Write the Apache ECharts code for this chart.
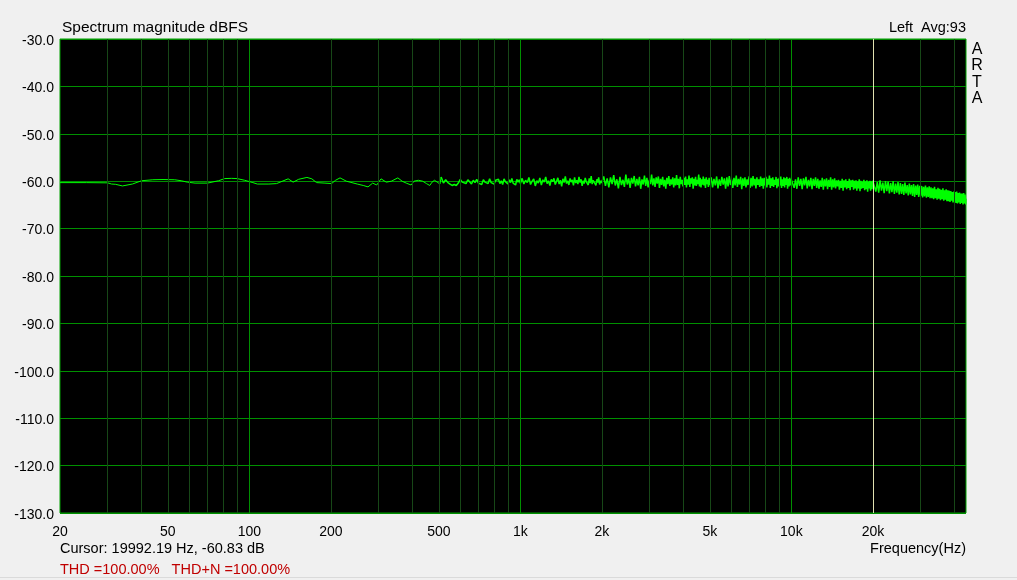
<!DOCTYPE html>
<html><head><meta charset="utf-8">
<script src="https://cdn.jsdelivr.net/npm/echarts@6/dist/echarts.min.js"></script>
<style>html,body{margin:0;padding:0;background:#f0f0f0}#c{width:1017px;height:580px}</style>
</head><body><div id="c"></div>
<script>
// ---- data ----
const freqLow = [20,25,30,31,32,34,37,40,44,48,53,56,59,63,70,77,81,86,90,96,103,107,118,126,139,145,152,163,170,177,190,201,208,216,228,250,263,274,285,295,306,320,334,353,366,379,395,405,420,436,450,463,472,482,496,505,510];
const dbLow = [-60.3,-60.3,-60.35,-60.6,-60.65,-61.0,-60.6,-59.9,-59.7,-59.65,-59.7,-59.9,-60.2,-60.4,-60.4,-59.9,-59.45,-59.4,-59.45,-59.8,-60.3,-60.6,-60.6,-60.5,-59.5,-60.2,-59.6,-59.2,-59.5,-60.3,-60.4,-60.5,-59.8,-59.3,-60.0,-60.6,-60.9,-61.2,-60.4,-60.8,-59.5,-60.2,-60.0,-59.3,-60.0,-60.4,-60.8,-60.0,-59.8,-60.0,-60.5,-60.9,-60.2,-59.8,-60.3,-60.6,-59.1];

const freqA = [520,530,540,550,560,570,580,590,600,610,620,630,640,650,660,670,680,690,700,710,720,730,740,750,760,770,780,790,800,810,820,830,840,850,860,870,880,890,900,910,920,930,940,950,960,970,980,990,1000];
const dbA = [-60.4,-59.7,-60.3,-60.6,-60.9,-60.7,-60.9,-60.4,-59.6,-60.2,-59.8,-60.5,-59.7,-60.1,-60.6,-59.8,-60.3,-59.6,-60.4,-60.0,-60.7,-59.7,-60.2,-59.9,-60.5,-59.5,-60.3,-60.0,-60.6,-59.8,-60.2,-59.6,-60.5,-59.9,-60.7,-59.5,-60.1,-59.8,-60.6,-59.7,-60.3,-59.4,-60.4,-60.0,-60.8,-59.6,-60.2,-59.7,-60.5];

const freqB = [1015,1030,1045,1060,1075,1090,1105,1120,1135,1150,1165,1180,1195,1210,1225,1240,1255,1270,1285,1300,1315,1330,1345,1360,1375,1390,1405,1420,1435,1450,1465,1480,1495,1510,1525,1540,1555,1570,1585,1600,1615,1630,1645,1660,1675,1690,1705,1720,1735,1750,1765,1780,1795,1810,1825,1840,1855,1870,1885,1900,1915,1930,1945,1960,1975,1990];
const dbB = [-59.4,-60.6,-59.8,-60.3,-59.2,-60.7,-60.0,-59.5,-61.0,-59.9,-60.4,-59.3,-60.8,-59.7,-60.2,-59.1,-60.5,-59.9,-60.9,-59.6,-60.1,-59.4,-60.7,-60.0,-59.3,-60.6,-59.8,-61.1,-59.5,-60.3,-59.0,-60.5,-59.9,-60.8,-59.4,-60.2,-59.7,-60.9,-59.2,-60.4,-59.8,-60.6,-59.1,-60.3,-59.6,-61.0,-59.9,-60.5,-59.3,-60.1,-59.7,-60.8,-59.4,-60.4,-58.9,-60.6,-59.8,-60.2,-59.5,-60.9,-59.6,-60.3,-59.2,-60.7,-59.9,-60.4];

const freqC = [2030,2060,2090,2120,2150,2180,2210,2240,2270,2300,2330,2360,2390,2420,2450,2480,2510,2540,2570,2600,2630,2660,2690,2720,2750,2780,2810,2840,2870,2900,2930,2960,2990,3020,3050,3080,3110,3140,3170,3200,3230,3260,3290,3320,3350,3380,3410,3440,3470,3500,3530,3560,3590,3620,3650,3680,3710,3740,3770,3800,3830,3860,3890,3920,3950,3980,4010,4040,4070,4100,4130,4160,4190,4220,4250,4280,4310,4340,4370,4400,4430,4460,4490,4520,4550,4580,4610,4640,4670,4700,4730,4760,4790,4820,4850,4880,4910,4940,4970,5000];
const dbC = [-59.0,-61.0,-59.4,-61.3,-59.2,-60.6,-58.7,-60.9,-59.6,-61.5,-59.1,-60.8,-59.7,-61.2,-58.6,-60.7,-59.4,-61.4,-59.3,-60.5,-58.9,-61.1,-59.5,-60.9,-59.1,-61.6,-59.6,-60.7,-58.8,-61.0,-59.3,-61.3,-59.7,-60.6,-58.6,-60.9,-59.4,-61.2,-59.2,-60.5,-59.0,-61.4,-59.5,-60.8,-59.1,-61.1,-59.7,-61.6,-59.3,-60.6,-58.9,-61.0,-59.6,-60.7,-59.2,-61.3,-59.4,-60.9,-58.7,-60.8,-59.5,-61.5,-59.1,-60.6,-59.7,-61.1,-59.3,-60.8,-59.0,-61.3,-59.6,-60.7,-58.8,-61.2,-59.4,-60.5,-59.2,-61.6,-59.5,-60.9,-59.1,-61.0,-59.7,-60.6,-58.6,-61.1,-59.3,-61.3,-59.6,-60.7,-59.0,-60.9,-59.5,-61.4,-59.2,-60.6,-59.7,-61.2,-59.3,-60.8];

const freqD = [5060,5120,5180,5240,5300,5360,5420,5480,5540,5600,5660,5720,5780,5840,5900,5960,6020,6080,6140,6200,6260,6320,6380,6440,6500,6560,6620,6680,6740,6800,6860,6920,6980,7040,7100,7160,7220,7280,7340,7400,7460,7520,7580,7640,7700,7760,7820,7880,7940,8000,8060,8120,8180,8240,8300,8360,8420,8480,8540,8600,8660,8720,8780,8840,8900,8960,9020,9080,9140,9200,9260,9320,9380,9440,9500,9560,9620,9680,9740,9800,9860,9920,9980];
const dbD = [-59.2,-61.3,-59.5,-60.9,-59.0,-61.5,-59.6,-61.0,-59.1,-60.7,-59.4,-61.6,-59.2,-61.1,-58.9,-60.8,-59.6,-61.4,-59.3,-60.9,-58.8,-61.2,-59.5,-60.7,-59.1,-61.7,-59.4,-61.0,-59.2,-61.3,-59.6,-60.8,-59.0,-61.4,-59.3,-61.1,-58.9,-60.9,-59.5,-61.5,-59.2,-60.8,-59.6,-61.2,-59.0,-61.0,-59.4,-61.6,-59.3,-60.9,-59.1,-61.3,-59.5,-60.7,-58.8,-61.4,-59.4,-61.0,-59.2,-61.2,-59.7,-60.8,-59.1,-61.5,-59.5,-61.1,-59.3,-60.9,-59.0,-61.4,-59.6,-61.0,-59.2,-61.3,-59.4,-60.8,-59.1,-61.6,-59.5,-61.1,-59.3,-60.9,-59.6];

const freqE = [10120,10240,10360,10480,10600,10720,10840,10960,11080,11200,11320,11440,11560,11680,11800,11920,12040,12160,12280,12400,12520,12640,12760,12880,13000,13120,13240,13360,13480,13600,13720,13840,13960,14080,14200,14320,14440,14560,14680,14800,14920,15040,15160,15280,15400,15520,15640,15760,15880,16000,16120,16240,16360,16480,16600,16720,16840,16960,17080,17200,17320,17440,17560,17680,17800,17920,18040,18160,18280,18400,18520,18640,18760,18880,19000,19120,19240,19360,19480,19600,19720,19840,19960];
const dbE = [-59.3,-61.4,-59.6,-61.6,-59.2,-61.0,-59.5,-61.7,-59.4,-60.9,-59.1,-61.5,-59.7,-61.1,-59.3,-61.7,-59.5,-61.0,-59.2,-61.4,-59.5,-61.6,-59.8,-61.2,-59.3,-61.8,-59.6,-61.1,-59.4,-61.7,-59.7,-61.2,-59.2,-61.8,-59.6,-61.3,-59.4,-61.5,-59.8,-61.1,-59.7,-61.8,-59.9,-61.4,-59.5,-62.0,-59.8,-61.3,-59.6,-61.7,-60.0,-61.4,-59.5,-61.9,-59.8,-61.2,-59.7,-61.8,-59.9,-61.5,-59.8,-62.0,-60.0,-61.5,-59.6,-62.1,-59.9,-61.6,-60.1,-61.4,-59.7,-61.9,-60.0,-61.7,-59.8,-62.2,-60.1,-61.5,-59.9,-62.0,-60.0,-61.7,-59.9];

const freqF = [20250,20500,20750,21000,21250,21500,21750,22000,22250,22500,22750,23000,23250,23500,23750,24000,24250,24500,24750,25000,25250,25500,25750,26000,26250,26500,26750,27000,27250,27500,27750,28000,28250,28500,28750,29000,29250,29500,29750,30000,30250,30500,30750,31000,31250,31500,31750,32000,32250,32500,32750,33000,33250,33500,33750,34000,34250,34500,34750,35000,35250,35500,35750,36000,36250,36500,36750,37000,37250,37500,37750,38000,38250,38500,38750,39000,39250,39500,39750,40000,40250,40500,40750,41000,41250,41500,41750,42000,42250,42500,42750,43000,43250,43500,43750,44000,44100];
const dbF = [-59.9,-62.2,-60.2,-62.4,-59.8,-62.0,-60.3,-62.5,-60.0,-62.1,-60.1,-62.6,-60.4,-62.3,-60.0,-62.7,-60.5,-62.4,-60.2,-62.8,-60.4,-62.7,-60.6,-62.9,-60.3,-62.6,-60.8,-63.0,-60.5,-62.8,-60.8,-63.1,-60.6,-63.3,-60.9,-62.9,-60.7,-63.3,-61.0,-63.1,-61.0,-63.4,-61.2,-63.2,-60.9,-63.5,-61.3,-63.3,-61.1,-63.6,-61.3,-63.6,-61.5,-63.8,-61.2,-63.6,-61.7,-63.9,-61.4,-63.7,-61.6,-64.0,-61.8,-63.8,-61.5,-64.1,-61.9,-63.9,-61.7,-64.2,-61.9,-64.2,-62.0,-64.4,-62.1,-64.1,-62.3,-64.5,-62.2,-64.3,-62.3,-64.6,-62.2,-64.7,-62.5,-64.5,-62.4,-64.8,-62.6,-64.6,-62.6,-64.9,-62.5,-64.7,-62.8,-64.9,-63.7];

const xLabelValues = [20,50,100,200,500,1000,2000,5000,10000,20000];
const minorGridFreqs = [30,40,50,60,70,80,90,200,300,400,500,600,700,800,900,2000,3000,4000,5000,6000,7000,8000,9000,30000,40000];
const majorGridFreqs = [100,1000,10000];
const cursorFreq = 19992.19;
const cursorDb = -60.83;

// ---- build ----
const lowPart = freqLow.map((f, i) => [f, dbLow[i]]);
const nFreq = [].concat(freqA, freqB, freqC, freqD, freqE, freqF);
const nDb = [].concat(dbA, dbB, dbC, dbD, dbE, dbF);
const noisyPart = [[freqLow[freqLow.length - 1], dbLow[dbLow.length - 1]]].concat(nFreq.map((f, i) => [f, nDb[i]]));

const FONT = "'Liberation Sans', Arial, sans-serif";
const chart = echarts.init(document.getElementById('c'), null, {renderer: 'canvas'});
chart.setOption({
  animation: false,
  backgroundColor: '#f0f0f0',
  grid: {left: 60, right: 51, top: 39, bottom: 67, show: true, backgroundColor: '#000', borderColor: '#00a000', borderWidth: 1},
  xAxis: {
    type: 'log', logBase: 10, min: 20, max: 44100,
    axisLine: {show: false}, axisTick: {show: false}, splitLine: {show: false}, minorSplitLine: {show: false},
    axisLabel: {
      customValues: xLabelValues, margin: 12, color: '#000', fontSize: 14, fontFamily: FONT,
      formatter: v => v >= 1000 ? (v / 1000) + 'k' : String(v)
    }
  },
  yAxis: {
    type: 'value', min: -130, max: -30, interval: 10,
    axisLine: {show: false}, axisTick: {show: false},
    splitLine: {show: true, lineStyle: {color: '#009000', width: 1}},
    axisLabel: {
      margin: 6, color: '#000', fontSize: 14, fontFamily: FONT,
      formatter: v => '{t|' + v.toFixed(1) + '}',
      rich: {t: {fontSize: 14, fontFamily: FONT, color: '#000', padding: [4, 0, 0, 0]}}
    }
  },
  series: [
    {
      type: 'line', data: [], z: 1, silent: true,
      markLine: {
        silent: true, symbol: ['none', 'none'], label: {show: false}, animation: false,
        data: minorGridFreqs.map(f => ({xAxis: f, lineStyle: {color: '#174717', width: 1, type: 'solid'}}))
          .concat(majorGridFreqs.map(f => ({xAxis: f, lineStyle: {color: '#009000', width: 1, type: 'solid'}})))
      }
    },
    {
      type: 'line', data: lowPart, z: 3, showSymbol: false, symbol: 'none',
      lineStyle: {color: '#00ff00', width: 1}, silent: true
    },
    {
      type: 'line', data: noisyPart, z: 3, showSymbol: false, symbol: 'none',
      lineStyle: {color: '#00ff00', width: 1.5}, silent: true
    },
    {
      type: 'line', data: [], z: 4, silent: true,
      markLine: {
        silent: true, symbol: ['none', 'none'], label: {show: false}, animation: false,
        data: [{xAxis: cursorFreq, lineStyle: {color: '#e0e0b0', width: 1, type: 'solid'}}]
      }
    }
  ],
  graphic: [
    {type: 'text', x: 62, y: 20, style: {text: 'Spectrum magnitude dBFS', fontSize: 15.5, fontFamily: FONT, fill: '#000', verticalAlign: 'top'}},
    {type: 'text', x: 966, y: 20, style: {text: 'Left  Avg:93', fontSize: 14.5, fontFamily: FONT, fill: '#000', align: 'right', verticalAlign: 'top'}},
    {type: 'text', x: 977, y: 41, style: {text: 'A\nR\nT\nA', fontSize: 16, lineHeight: 16.5, fontFamily: FONT, fill: '#000', align: 'center', verticalAlign: 'top'}},
    {type: 'text', x: 60, y: 541, style: {text: 'Cursor: ' + cursorFreq.toFixed(2) + ' Hz, ' + cursorDb.toFixed(2) + ' dB', fontSize: 14.5, fontFamily: FONT, fill: '#000', verticalAlign: 'top'}},
    {type: 'text', x: 966, y: 541, style: {text: 'Frequency(Hz)', fontSize: 14.5, fontFamily: FONT, fill: '#000', align: 'right', verticalAlign: 'top'}},
    {type: 'text', x: 60, y: 562, style: {text: 'THD =100.00%   THD+N =100.00%', fontSize: 14.5, fontFamily: FONT, fill: '#c00000', verticalAlign: 'top'}},
    {type: 'rect', shape: {x: 0, y: 577, width: 1017, height: 1}, style: {fill: '#dadada'}, silent: true}
  ]
});
</script>
</body></html>
